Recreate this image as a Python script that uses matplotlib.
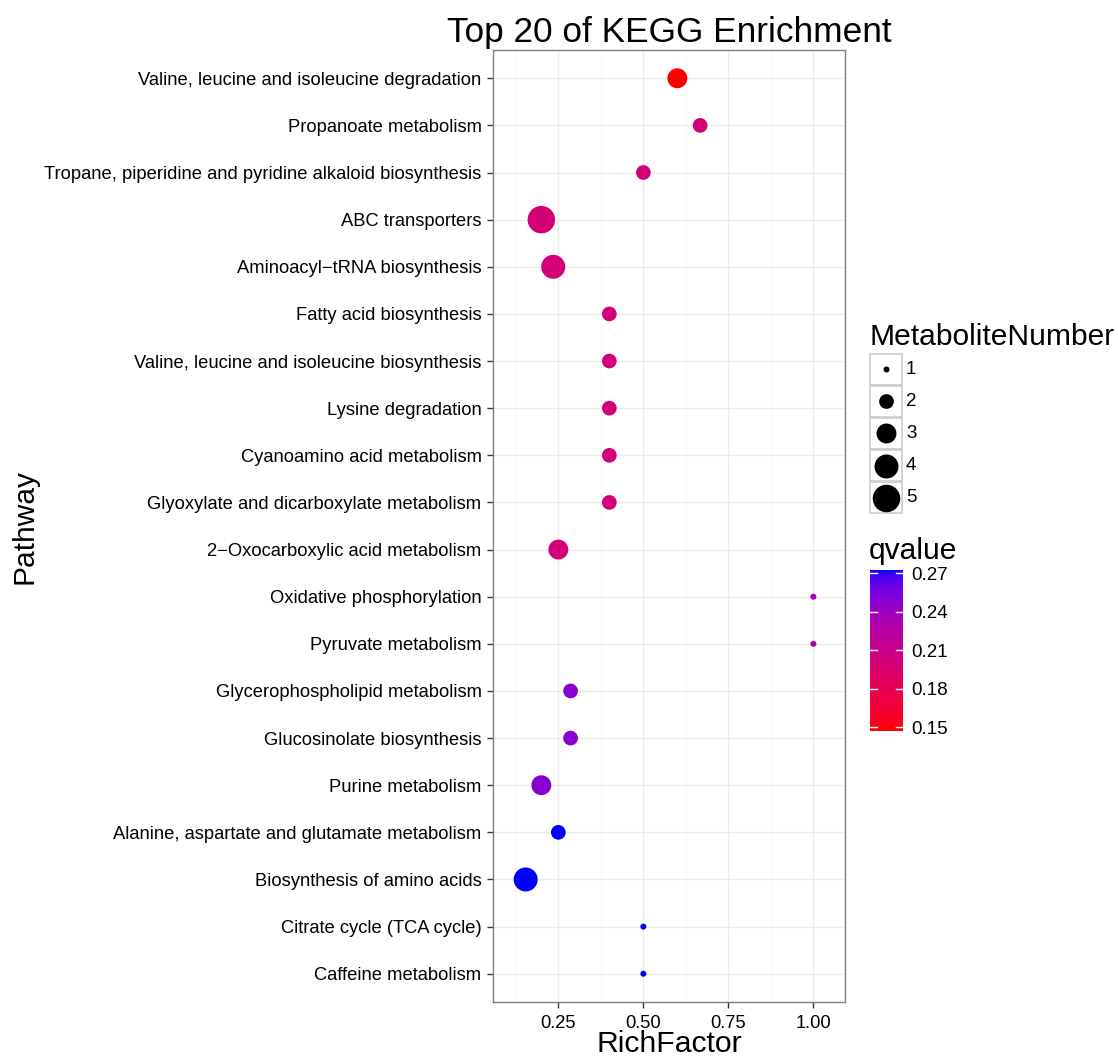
import numpy as np
import matplotlib
matplotlib.use("Agg")
import matplotlib.pyplot as plt
from matplotlib.colors import ListedColormap, Normalize
from matplotlib.cm import ScalarMappable
from matplotlib.patches import Rectangle

plt.rcParams['font.family'] = ['Liberation Sans', 'DejaVu Sans']

# pathways, top to bottom
pathways = [
    "Valine, leucine and isoleucine degradation",
    "Propanoate metabolism",
    "Tropane, piperidine and pyridine alkaloid biosynthesis",
    "ABC transporters",
    "Aminoacyl\u2212tRNA biosynthesis",
    "Fatty acid biosynthesis",
    "Valine, leucine and isoleucine biosynthesis",
    "Lysine degradation",
    "Cyanoamino acid metabolism",
    "Glyoxylate and dicarboxylate metabolism",
    "2\u2212Oxocarboxylic acid metabolism",
    "Oxidative phosphorylation",
    "Pyruvate metabolism",
    "Glycerophospholipid metabolism",
    "Glucosinolate biosynthesis",
    "Purine metabolism",
    "Alanine, aspartate and glutamate metabolism",
    "Biosynthesis of amino acids",
    "Citrate cycle (TCA cycle)",
    "Caffeine metabolism",
]
rich_factor = [0.6, 0.667, 0.5, 0.2, 0.235, 0.4, 0.4, 0.4, 0.4, 0.4,
               0.25, 1.0, 1.0, 0.286, 0.286, 0.2, 0.25, 0.154, 0.5, 0.5]
metabolite_number = [3, 2, 2, 5, 4, 2, 2, 2, 2, 2,
                     3, 1, 1, 2, 2, 3, 2, 4, 1, 1]
qvalue = [0.1469, 0.200, 0.200, 0.200, 0.200, 0.200, 0.200, 0.200, 0.200, 0.200,
          0.200, 0.231, 0.231, 0.249, 0.249, 0.249, 0.2726, 0.2726, 0.2726, 0.2726]

size_levels = [1, 2, 3, 4, 5]
q_ticks = [0.15, 0.18, 0.21, 0.24, 0.27]

# red -> blue gradient interpolated in Lab space
M = np.array([[0.4124, 0.3576, 0.1805],
              [0.2126, 0.7152, 0.0722],
              [0.0193, 0.1192, 0.9505]])
WHITE = np.array([0.95047, 1.0, 1.08883])

def to_lab(rgb):
    c = np.asarray(rgb, float)
    lin = np.where(c <= 0.04045, c / 12.92, ((c + 0.055) / 1.055) ** 2.4)
    xyz = M @ lin / WHITE
    f = np.where(xyz > 0.008856, np.cbrt(xyz), 7.787 * xyz + 16 / 116)
    return np.array([116 * f[1] - 16, 500 * (f[0] - f[1]), 200 * (f[1] - f[2])])

def from_lab(lab):
    L, a, b = lab
    fy = (L + 16) / 116
    f = np.array([fy + a / 500, fy, fy - b / 200])
    xyz = np.where(f ** 3 > 0.008856, f ** 3, (f - 16 / 116) / 7.787) * WHITE
    lin = np.clip(np.linalg.solve(M, xyz), 0, 1)
    c = np.where(lin <= 0.0031308, 12.92 * lin, 1.055 * lin ** (1 / 2.4) - 0.055)
    return np.clip(c, 0, 1)

lab_lo, lab_hi = to_lab([1, 0, 0]), to_lab([0, 0, 1])
cmap = ListedColormap([from_lab(lab_lo + t * (lab_hi - lab_lo)) for t in np.linspace(0, 1, 256)])
norm = Normalize(min(qvalue), max(qvalue))

def marker_area(n):
    # area grows linearly with the count; diameter in pixels -> points^2
    d_px = np.sqrt(36 + (np.asarray(n, float) - 1) * 180)
    return (d_px * 72 / 100) ** 2

W, H = 1118, 1061
fig = plt.figure(figsize=(W / 100, H / 100), dpi=100)
ax = fig.add_axes([492.7 / W, 1 - 1002 / H, (845 - 492.7) / W, (1002 - 50) / H])

y = np.arange(len(pathways))
ax.scatter(rich_factor, y, s=marker_area(metabolite_number), c=qvalue,
           cmap=cmap, norm=norm, linewidths=0, zorder=3)

ax.set_xlim(0.057, 1.093)
ax.set_ylim(len(pathways) - 0.4, -0.6)
ax.set_yticks(y)
ax.set_yticklabels(pathways)
ax.set_xticks([0.25, 0.5, 0.75, 1.0])
ax.set_xticklabels(["0.25", "0.50", "0.75", "1.00"])
ax.set_xticks([0.125, 0.375, 0.625, 0.875], minor=True)
ax.grid(which='major', color='#ebebeb', linewidth=1.0, zorder=0)
ax.grid(which='minor', axis='x', color='#f5f5f5', linewidth=0.6, zorder=0)
ax.set_axisbelow(True)
for sp in ax.spines.values():
    sp.set_color('#7f7f7f')
    sp.set_linewidth(1.0)
ax.tick_params(which='major', length=4, width=1, color='#333333', labelsize=13.2,
               labelcolor='black', pad=4)
ax.tick_params(axis='x', pad=5)
ax.tick_params(which='minor', length=0)

ax.set_xlabel("RichFactor", fontsize=21.7)
ax.xaxis.set_label_coords(0.5, -(1044 - 1002) / (1002 - 50))
ax.xaxis.label.set_va('center')
ax.set_ylabel("Pathway", fontsize=21.5)
ax.yaxis.set_label_coords(-454 / (845 - 492.7), 0.5)
ax.set_title("Top 20 of KEGG Enrichment", fontsize=25.4, pad=6)

# size legend
fig.text(869 / W, 1 - 337 / H, "MetaboliteNumber", fontsize=21.6, va='center', ha='left')
lax = fig.add_axes([869 / W, 1 - 514 / H, 34 / W, 161 / H])
lax.set_xlim(0, 1)
lax.set_ylim(len(size_levels), 0)
lax.axis('off')
for i, n in enumerate(size_levels):
    lax.add_patch(Rectangle((0.02, i + 0.02), 0.96, 0.96, facecolor='white',
                            edgecolor='#cccccc', linewidth=1.2))
    lax.scatter([0.5], [i + 0.5], s=marker_area(n), color='black', linewidths=0, zorder=3)
    fig.text(906 / W, 1 - (353 + 32 * i + 17) / H, str(n), fontsize=13.5, va='center', ha='left')

# colour bar
fig.text(869 / W, 1 - 551 / H, "qvalue", fontsize=21.6, va='center', ha='left')
cax = fig.add_axes([870 / W, 1 - 731 / H, 33 / W, 161 / H])
cb = fig.colorbar(ScalarMappable(norm=norm, cmap=cmap), cax=cax, ticks=q_ticks)
cb.outline.set_visible(False)
cb.ax.tick_params(length=0, labelsize=13.5, pad=6)
cb.ax.set_yticklabels([f"{t:.2f}" for t in q_ticks])
for t in q_ticks:
    cax.plot([0, 0.2], [t, t], color='white', linewidth=1, transform=cax.get_yaxis_transform())
    cax.plot([0.8, 1], [t, t], color='white', linewidth=1, transform=cax.get_yaxis_transform())

fig.savefig("out.png", dpi=100)
